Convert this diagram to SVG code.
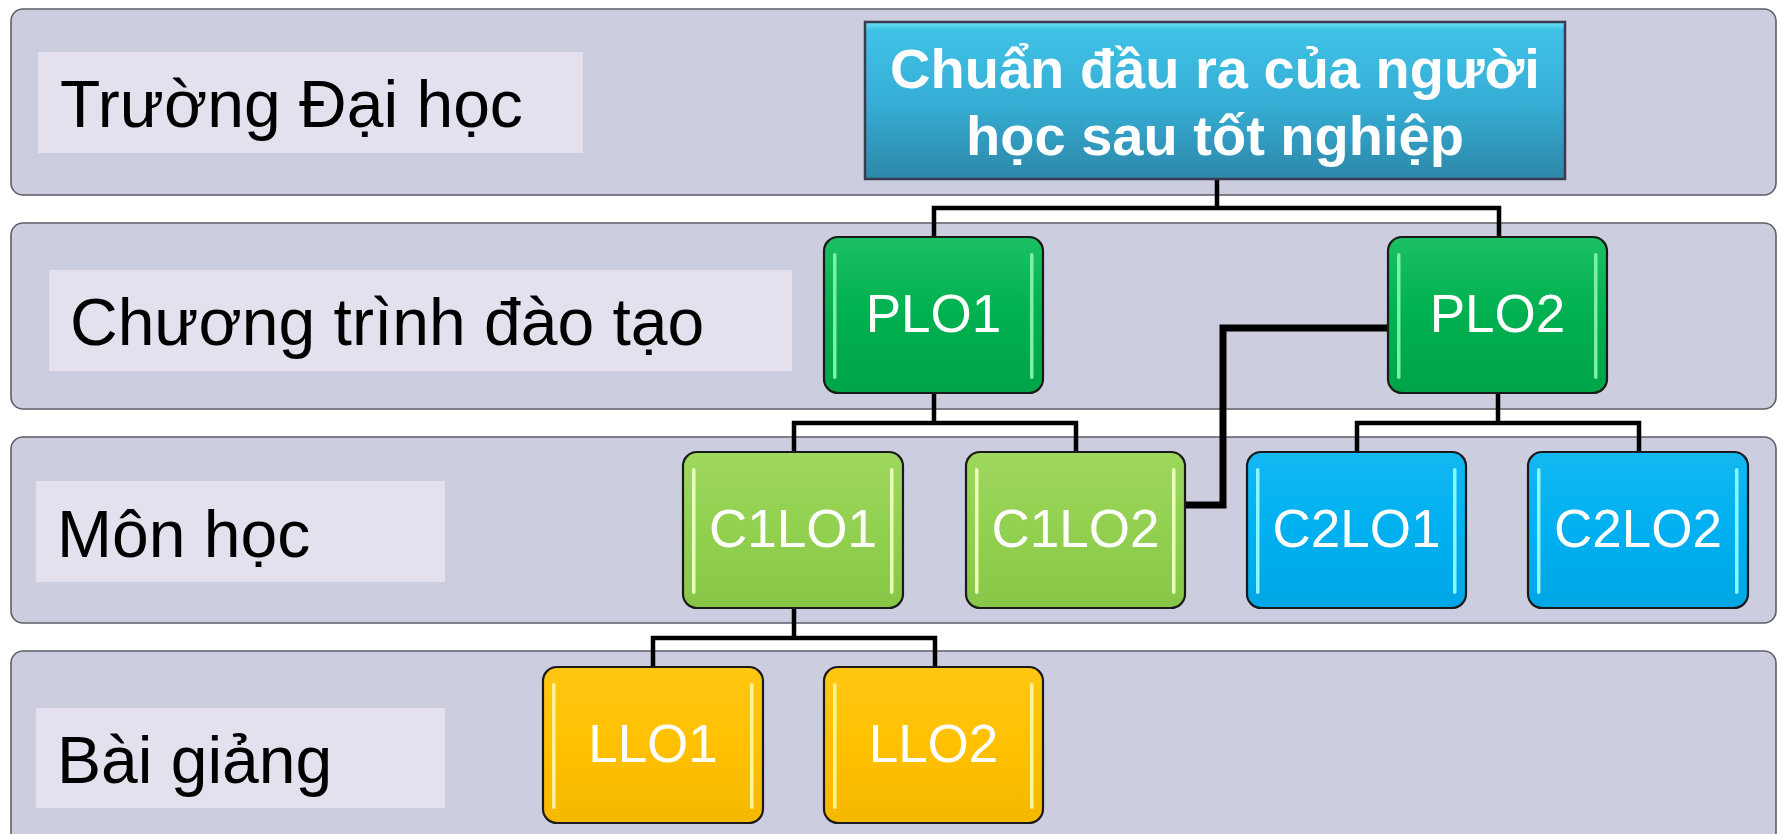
<svg xmlns="http://www.w3.org/2000/svg" width="1777" height="834" viewBox="0 0 1777 834">
<defs>
<linearGradient id="gTop" x1="0" y1="0" x2="0" y2="1">
<stop offset="0" stop-color="#6fe6f6"/><stop offset="0.05" stop-color="#40c2e6"/><stop offset="0.5" stop-color="#36aed6"/><stop offset="1" stop-color="#2d88a8"/>
</linearGradient>
<linearGradient id="gPLO" x1="0" y1="0" x2="0" y2="1"><stop offset="0" stop-color="#1cc062"/><stop offset="0.5" stop-color="#00b050"/><stop offset="1" stop-color="#00a448"/></linearGradient>
<linearGradient id="gC1" x1="0" y1="0" x2="0" y2="1"><stop offset="0" stop-color="#9ed85e"/><stop offset="0.5" stop-color="#92d050"/><stop offset="1" stop-color="#88c648"/></linearGradient>
<linearGradient id="gC2" x1="0" y1="0" x2="0" y2="1"><stop offset="0" stop-color="#14b8f2"/><stop offset="0.5" stop-color="#00b0f0"/><stop offset="1" stop-color="#00a6e4"/></linearGradient>
<linearGradient id="gL" x1="0" y1="0" x2="0" y2="1"><stop offset="0" stop-color="#ffc714"/><stop offset="0.5" stop-color="#ffc000"/><stop offset="1" stop-color="#f6b800"/></linearGradient>
</defs>
<style>
.band{fill:#cdcde0;stroke:#5e5e6a;stroke-width:1.6}
.lab{fill:#e4e0ee}
.labt{font-family:"Liberation Sans",Arial,sans-serif;font-size:66px;fill:#000}
.node{stroke:#1a1a1a;stroke-width:2.2}
.nt{font-family:"Liberation Sans",Arial,sans-serif;font-size:53px;fill:#fff;text-anchor:middle}
.tt{font-family:"Liberation Sans",Arial,sans-serif;font-size:56px;font-weight:bold;fill:#fff;text-anchor:middle}
.con{fill:none;stroke:#000;stroke-width:4.5;stroke-linejoin:miter;stroke-linecap:square}
.thick{stroke-width:7}
.hPLO{fill:#7cf0a8}
.hC1{fill:#eaffb8}
.hC2{fill:#8cf6ff}
.hL{fill:#fff39a}
</style>
<rect width="1777" height="834" fill="#ffffff"/>
<g id="bands">
<rect class="band" x="11" y="9" width="1765" height="186" rx="12"/>
<rect class="band" x="11" y="223" width="1765" height="186" rx="12"/>
<rect class="band" x="11" y="437" width="1765" height="186" rx="12"/>
<rect class="band" x="11" y="651" width="1765" height="200" rx="12"/>
</g>
<g id="lane-truong">
<rect class="lab" x="38" y="52" width="545" height="101"/>
<text class="labt" x="60" y="127">Trường Đại học</text>
</g>
<g id="lane-ctdt">
<rect class="lab" x="49" y="270" width="743" height="101"/>
<text class="labt" x="70" y="345">Chương trình đào tạo</text>
</g>
<g id="lane-monhoc">
<rect class="lab" x="36" y="481" width="409" height="101"/>
<text class="labt" x="57" y="557">Môn học</text>
</g>
<g id="lane-baigiang">
<rect class="lab" x="36" y="708" width="409" height="100"/>
<text class="labt" x="57" y="783">Bài giảng</text>
</g>
<g id="connectors">
<path class="con" d="M1217 180 V208 M934 236 V208 H1499 V236"/>
<path class="con" d="M934 393 V423 M794 451 V423 H1076 V451"/>
<path class="con" d="M1498 393 V423 M1357 451 V423 H1639 V451"/>
<path class="con thick" d="M1387 328 H1223 V505 H1187"/>
<path class="con" d="M794 608 V638 M653 666 V638 H935 V666"/>
</g>
<g id="node-top">
<rect x="865" y="22" width="700" height="157" fill="url(#gTop)" stroke="#3a3a50" stroke-width="2.5"/>
<text class="tt" x="1215" y="88">Chuẩn đầu ra của người</text>
<text class="tt" x="1215" y="155">học sau tốt nghiệp</text>
</g>
<g id="node-plo1">
<rect class="node" x="824" y="237" width="219" height="156" rx="14" fill="url(#gPLO)"/>
<rect class="hPLO" x="833" y="253" width="3.5" height="126" rx="1.7"/>
<rect class="hPLO" x="1030" y="253" width="3.5" height="126" rx="1.7"/>
<text class="nt" x="933.5" y="332">PLO1</text>
</g>
<g id="node-plo2">
<rect class="node" x="1388" y="237" width="219" height="156" rx="14" fill="url(#gPLO)"/>
<rect class="hPLO" x="1397" y="253" width="3.5" height="126" rx="1.7"/>
<rect class="hPLO" x="1594" y="253" width="3.5" height="126" rx="1.7"/>
<text class="nt" x="1497.5" y="332">PLO2</text>
</g>
<g id="node-c1lo1">
<rect class="node" x="683" y="452" width="220" height="156" rx="14" fill="url(#gC1)"/>
<rect class="hC1" x="692" y="468" width="3.5" height="126" rx="1.7"/>
<rect class="hC1" x="890" y="468" width="3.5" height="126" rx="1.7"/>
<text class="nt" x="793" y="547">C1LO1</text>
</g>
<g id="node-c1lo2">
<rect class="node" x="966" y="452" width="219" height="156" rx="14" fill="url(#gC1)"/>
<rect class="hC1" x="975" y="468" width="3.5" height="126" rx="1.7"/>
<rect class="hC1" x="1172" y="468" width="3.5" height="126" rx="1.7"/>
<text class="nt" x="1075.5" y="547">C1LO2</text>
</g>
<g id="node-c2lo1">
<rect class="node" x="1247" y="452" width="219" height="156" rx="14" fill="url(#gC2)"/>
<rect class="hC2" x="1256" y="468" width="3.5" height="126" rx="1.7"/>
<rect class="hC2" x="1453" y="468" width="3.5" height="126" rx="1.7"/>
<text class="nt" x="1356.5" y="547">C2LO1</text>
</g>
<g id="node-c2lo2">
<rect class="node" x="1528" y="452" width="220" height="156" rx="14" fill="url(#gC2)"/>
<rect class="hC2" x="1537" y="468" width="3.5" height="126" rx="1.7"/>
<rect class="hC2" x="1735" y="468" width="3.5" height="126" rx="1.7"/>
<text class="nt" x="1638" y="547">C2LO2</text>
</g>
<g id="node-llo1">
<rect class="node" x="543" y="667" width="220" height="156" rx="14" fill="url(#gL)"/>
<rect class="hL" x="552" y="683" width="3.5" height="126" rx="1.7"/>
<rect class="hL" x="750" y="683" width="3.5" height="126" rx="1.7"/>
<text class="nt" x="653" y="762">LLO1</text>
</g>
<g id="node-llo2">
<rect class="node" x="824" y="667" width="219" height="156" rx="14" fill="url(#gL)"/>
<rect class="hL" x="833" y="683" width="3.5" height="126" rx="1.7"/>
<rect class="hL" x="1030" y="683" width="3.5" height="126" rx="1.7"/>
<text class="nt" x="933.5" y="762">LLO2</text>
</g>
</svg>
